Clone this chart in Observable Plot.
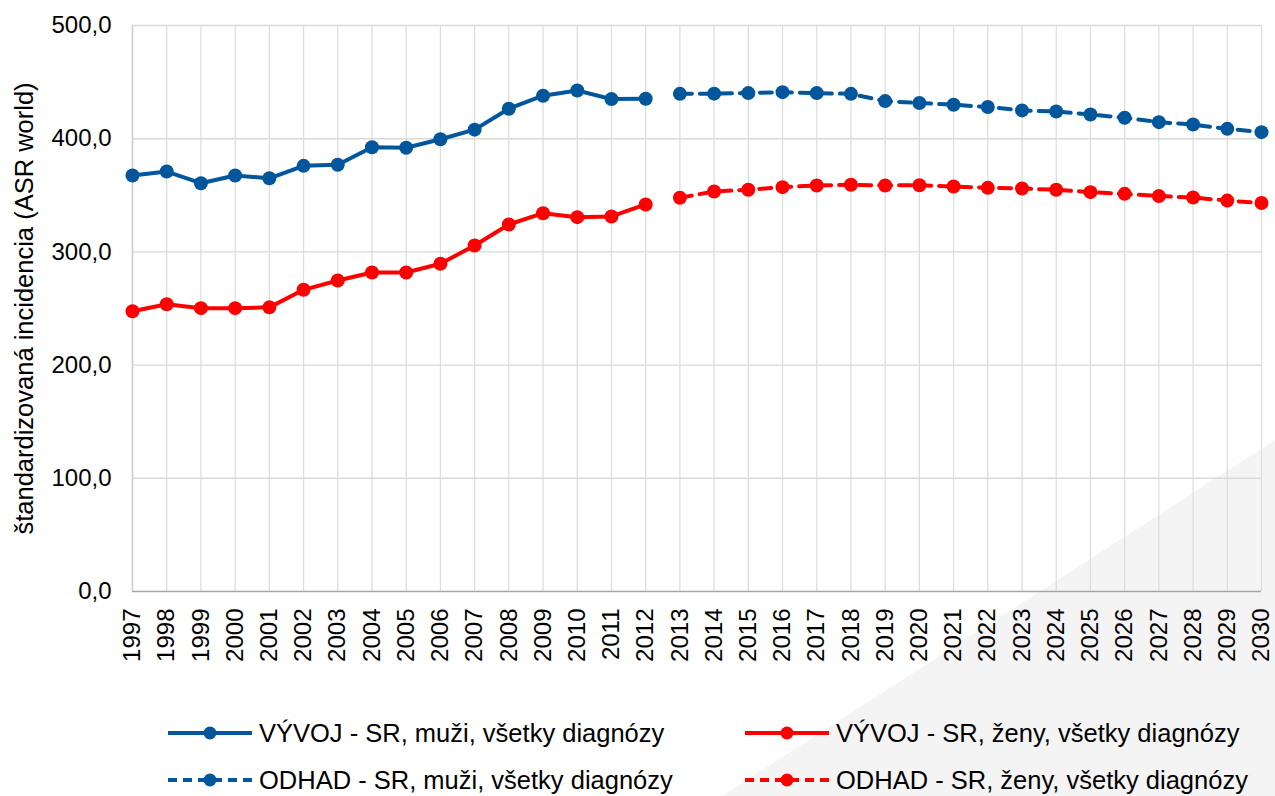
<!DOCTYPE html>
<html>
<head>
<meta charset="utf-8">
<script src="https://cdn.jsdelivr.net/npm/d3@7"></script>
<script src="https://cdn.jsdelivr.net/npm/@observablehq/plot@0.6"></script>
<style>
  html, body { margin: 0; padding: 0; background: #fff; }
  body { font-family: "Liberation Sans", Arial, sans-serif; }
  #wrap { position: relative; width: 1275px; height: 796px; overflow: hidden; }
  #tri { position: absolute; left: 0; top: 0; width: 1275px; height: 796px; background: #f4f4f4;
         clip-path: polygon(1275px 440px, 1275px 796px, 722px 796px); }
  #chart { position: absolute; left: 0; top: 0; }
  .leg { position: absolute; display: flex; align-items: center; height: 30px; font-size: 25.5px; color: #000; white-space: nowrap; }
  .leg svg { margin-right: 6px; }
</style>
</head>
<body>
<div id="wrap">
  <div id="tri"></div>
  <div id="chart"></div>
  <div id="legend"></div>
</div>
<script>
const allYears = [1997,1998,1999,2000,2001,2002,2003,2004,2005,2006,2007,2008,2009,2010,2011,2012,2013,2014,2015,2016,2017,2018,2019,2020,2021,2022,2023,2024,2025,2026,2027,2028,2029,2030];
const yTicks = [0,100,200,300,400,500];

const histYears = [1997,1998,1999,2000,2001,2002,2003,2004,2005,2006,2007,2008,2009,2010,2011,2012];
const histMen   = [367.5,371.0,360.7,367.5,365.0,376.0,377.0,392.5,392.0,399.5,408.0,426.5,438.0,442.6,435.0,435.3];
const histWomen = [247.6,253.8,250.3,250.3,251.0,266.5,274.7,281.8,281.8,289.5,305.7,324.2,334.2,330.7,331.3,341.9];

const fcYears = [2013,2014,2015,2016,2017,2018,2019,2020,2021,2022,2023,2024,2025,2026,2027,2028,2029,2030];
const fcMen   = [439.6,439.8,440.3,441.1,440.3,439.6,433.2,431.5,430.0,428.0,425.0,424.0,421.4,418.5,414.6,412.5,408.7,405.8];
const fcWomen = [347.8,353.4,354.9,357.2,358.7,359.3,358.7,358.9,357.8,356.6,356.0,354.9,352.8,351.3,349.3,348.0,345.3,343.2];

const seriesNames = [
  "VÝVOJ - SR, muži, všetky diagnózy",
  "VÝVOJ - SR, ženy, všetky diagnózy",
  "ODHAD - SR, muži, všetky diagnózy",
  "ODHAD - SR, ženy, všetky diagnózy"
];
const yLabel = "štandardizovaná incidencia (ASR world)";

const BLUE = "#02569B";
const RED = "#FF0000";
const DASH = "12,8";

const hist = histYears.map((y, i) => ({year: y, men: histMen[i], women: histWomen[i]}));
const fc = fcYears.map((y, i) => ({year: y, men: fcMen[i], women: fcWomen[i]}));

const fmt = d => d.toFixed(1).replace(".", ",");

const chart = Plot.plot({
  width: 1275,
  height: 680,
  marginTop: 25,
  marginBottom: 89,
  marginLeft: 132,
  marginRight: 14,
  style: {fontFamily: "'Liberation Sans', Arial, sans-serif", color: "#000", background: "transparent", overflow: "visible"},
  x: {type: "linear", domain: [1997, 2030]},
  y: {domain: [0, 500]},
  marks: [
    Plot.gridX(allYears, {stroke: "#dcdcdc", strokeOpacity: 1, strokeWidth: 1.2}),
    Plot.gridY(yTicks.filter(d => d > 0), {stroke: "#d9d9d9", strokeOpacity: 1, strokeWidth: 1.4}),
    Plot.ruleX([1997], {stroke: "#cfcfcf", strokeWidth: 1.6}),
    Plot.ruleY([0], {stroke: "#a6a6a6", strokeWidth: 1.6}),
    Plot.line(hist, {x: "year", y: "men", stroke: BLUE, strokeWidth: 4}),
    Plot.line(hist, {x: "year", y: "women", stroke: RED, strokeWidth: 4}),
    Plot.line(fc, {x: "year", y: "men", stroke: BLUE, strokeWidth: 4, strokeDasharray: DASH}),
    Plot.line(fc, {x: "year", y: "women", stroke: RED, strokeWidth: 4, strokeDasharray: DASH}),
    Plot.dot(hist, {x: "year", y: "men", r: 7, fill: BLUE}),
    Plot.dot(hist, {x: "year", y: "women", r: 7, fill: RED}),
    Plot.dot(fc, {x: "year", y: "men", r: 7, fill: BLUE}),
    Plot.dot(fc, {x: "year", y: "women", r: 7, fill: RED}),
    Plot.axisX({ticks: allYears, tickFormat: d => String(d), tickRotate: -90, tickSize: 0, tickPadding: 17, fontSize: 24, label: null}),
    Plot.axisY({ticks: yTicks, tickFormat: fmt, tickSize: 0, tickPadding: 21, fontSize: 24, label: null}),
    Plot.axisY({ticks: [], tickSize: 0, fontSize: 25.5,
                label: yLabel, labelAnchor: "center", labelArrow: "none", labelOffset: 118})
  ]
});
document.getElementById("chart").appendChild(chart);

// Legend
const legendItems = [
  {name: seriesNames[0], color: BLUE, dash: null, left: 168, top: 718},
  {name: seriesNames[1], color: RED, dash: null, left: 745, top: 718},
  {name: seriesNames[2], color: BLUE, dash: "9,6", left: 168, top: 765},
  {name: seriesNames[3], color: RED, dash: "9,6", left: 745, top: 765}
];
const legend = document.getElementById("legend");
for (const it of legendItems) {
  const div = document.createElement("div");
  div.className = "leg";
  div.style.left = it.left + "px";
  div.style.top = it.top + "px";
  const svg = d3.create("svg").attr("width", 85).attr("height", 30);
  svg.append("line").attr("x1", 0).attr("x2", 84).attr("y1", 15).attr("y2", 15)
    .attr("stroke", it.color).attr("stroke-width", 4)
    .attr("stroke-dasharray", it.dash);
  svg.append("circle").attr("cx", 42).attr("cy", 15).attr("r", 6.5).attr("fill", it.color);
  div.appendChild(svg.node());
  const span = document.createElement("span");
  span.textContent = it.name;
  div.appendChild(span);
  legend.appendChild(div);
}
</script>
</body>
</html>
